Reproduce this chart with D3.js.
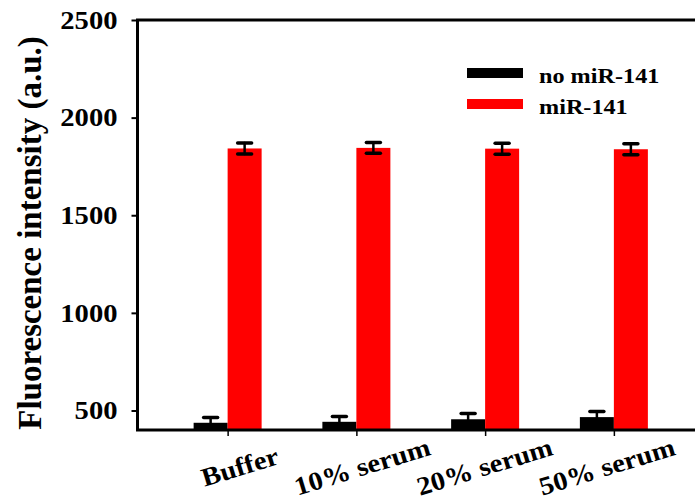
<!DOCTYPE html>
<html>
<head>
<meta charset="utf-8">
<script src="https://cdn.jsdelivr.net/npm/d3@7/dist/d3.min.js"></script>
<style>
  html, body { margin: 0; padding: 0; background: #fff; }
  svg { display: block; }
  text { font-family: "Liberation Serif", "Times New Roman", serif; font-weight: bold; fill: #000; }
</style>
</head>
<body>
<svg id="chart" width="695" height="502"></svg>
<script>
// Fluorescence intensity per sample medium, with and without miR-141
const categories = ["Buffer", "10% serum", "20% serum", "50% serum"];
const series = ["no miR-141", "miR-141"];
const seriesColors = ["#000000", "#ff0000"];
const noMiRValues = [437, 442, 455, 466];
const noMiRErrors = [27, 27, 30, 29];
const miRValues = [1842, 1845, 1841, 1838];
const miRErrors = [28, 28, 28, 28];
const yTickValues = [500, 1000, 1500, 2000, 2500];
const yTitle = "Fluorescence intensity (a.u.)";

const svg = d3.select("#chart");

const plotLeft = 137.5, plotRight = 704, plotTop = 20, plotBottom = 430;

const x = d3.scalePoint().domain(categories).range([plotLeft, plotRight]).padding(0.7);
// category labels sit on a slightly tighter spacing than the ticks
const xLabel = d3.scalePoint().domain(categories).range([240, 607]);
const xSeries = d3.scaleBand().domain(series).range([-34, 34]).padding(0);
const y = d3.scaleLinear().domain([400, 2500]).range([plotBottom, plotTop]);
const color = d3.scaleOrdinal().domain(series).range(seriesColors);

// widen glyphs slightly along the text direction
function stretch(sel, k) {
  sel.each(function () {
    const len = this.getComputedTextLength();
    d3.select(this).attr("textLength", len * k).attr("lengthAdjust", "spacingAndGlyphs");
  });
}

const rows = categories.map((c, i) => [
  { cat: c, s: series[0], v: noMiRValues[i], e: noMiRErrors[i] },
  { cat: c, s: series[1], v: miRValues[i], e: miRErrors[i] }
]).flat();

// bars
svg.append("g").selectAll("rect").data(rows).join("rect")
  .attr("x", d => x(d.cat) + xSeries(d.s))
  .attr("width", xSeries.bandwidth())
  .attr("y", d => y(d.v))
  .attr("height", d => y(400) - y(d.v))
  .attr("fill", d => color(d.s));

// error bars
const eb = svg.append("g").attr("stroke", "#000").attr("stroke-linecap", "round");
rows.forEach(d => {
  const cx = x(d.cat) + xSeries(d.s) + xSeries.bandwidth() / 2;
  const y1 = y(d.v + d.e), y0 = Math.min(y(d.v - d.e), plotBottom);
  eb.append("line").attr("x1", cx).attr("x2", cx).attr("y1", y1).attr("y2", y0).attr("stroke-width", 2.5);
  eb.append("line").attr("x1", cx - 7).attr("x2", cx + 7).attr("y1", y1).attr("y2", y1).attr("stroke-width", 3.5);
  if (y(d.v - d.e) < plotBottom - 2)
    eb.append("line").attr("x1", cx - 7).attr("x2", cx + 7).attr("y1", y0).attr("y2", y0).attr("stroke-width", 3.5);
});

// y axis
const yAxis = svg.append("g").attr("transform", `translate(${plotLeft},0)`)
  .call(d3.axisLeft(y).tickValues(yTickValues).tickSize(6).tickPadding(14).tickFormat(d3.format("d")));
yAxis.select(".domain").remove();
yAxis.selectAll(".tick line").attr("stroke", "#000").attr("stroke-width", 2);
yAxis.selectAll(".tick text").attr("font-size", 26).attr("font-family", null).call(stretch, 1.1);

// x axis ticks
const xAxis = svg.append("g").attr("transform", `translate(0,${plotBottom})`)
  .call(d3.axisBottom(x).tickSize(6).tickFormat(""));
xAxis.select(".domain").remove();
xAxis.selectAll(".tick line").attr("stroke", "#000").attr("stroke-width", 1.5);

// x labels
svg.append("g").selectAll("text").data(categories).join("text")
  .attr("transform", d => `translate(${xLabel(d)},467) rotate(-17)`)
  .attr("text-anchor", "middle")
  .attr("dominant-baseline", "central")
  .attr("font-size", 26)
  .text(d => d)
  .call(stretch, 1.1);

// frame
svg.append("rect")
  .attr("x", plotLeft).attr("y", plotTop)
  .attr("width", plotRight - plotLeft).attr("height", plotBottom - plotTop)
  .attr("fill", "none").attr("stroke", "#000").attr("stroke-width", 3);

// y title
svg.append("text")
  .attr("transform", "translate(41,233) rotate(-90)")
  .attr("text-anchor", "middle")
  .attr("font-size", 33)
  .text(yTitle);

// legend
const legend = svg.append("g");
series.forEach((s, i) => {
  const ly = 73 + i * 31;
  legend.append("rect").attr("x", 467).attr("y", ly - 5).attr("width", 56).attr("height", 10).attr("fill", color(s));
  legend.append("text").attr("x", 539).attr("y", ly + 10).attr("font-size", 22).text(s).call(stretch, 1.1);
});
</script>
</body>
</html>
